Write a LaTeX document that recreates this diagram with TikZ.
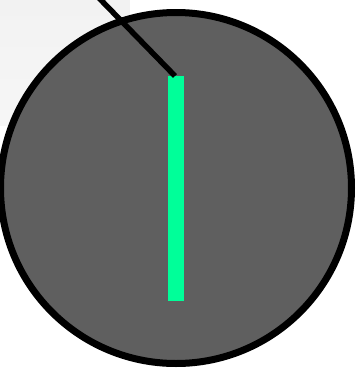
\documentclass[tikz,border=0pt]{standalone}
\begin{document}
\begin{tikzpicture}[x=1pt,y=-1pt]
\definecolor{bgpanel}{HTML}{F2F2F2}
\definecolor{bgpanelb}{HTML}{F6F6F6}
\definecolor{disk}{HTML}{5F5F5F}
\definecolor{bar}{HTML}{00FF99}
\useasboundingbox (0,0) rectangle (361,368);
\clip (0,0) rectangle (361,368);
\shade[top color=bgpanel,bottom color=bgpanelb] (0,0) rectangle (130,125);
\draw[line width=7pt,fill=disk] (176,188) circle[radius=175.5];
\fill[bar] (168,76) rectangle (184,301);
\coordinate (ls) at (99,-2);
\coordinate (le) at (175,76);
\draw[line width=5.5pt] (ls) -- (le);
\end{tikzpicture}
\end{document}
